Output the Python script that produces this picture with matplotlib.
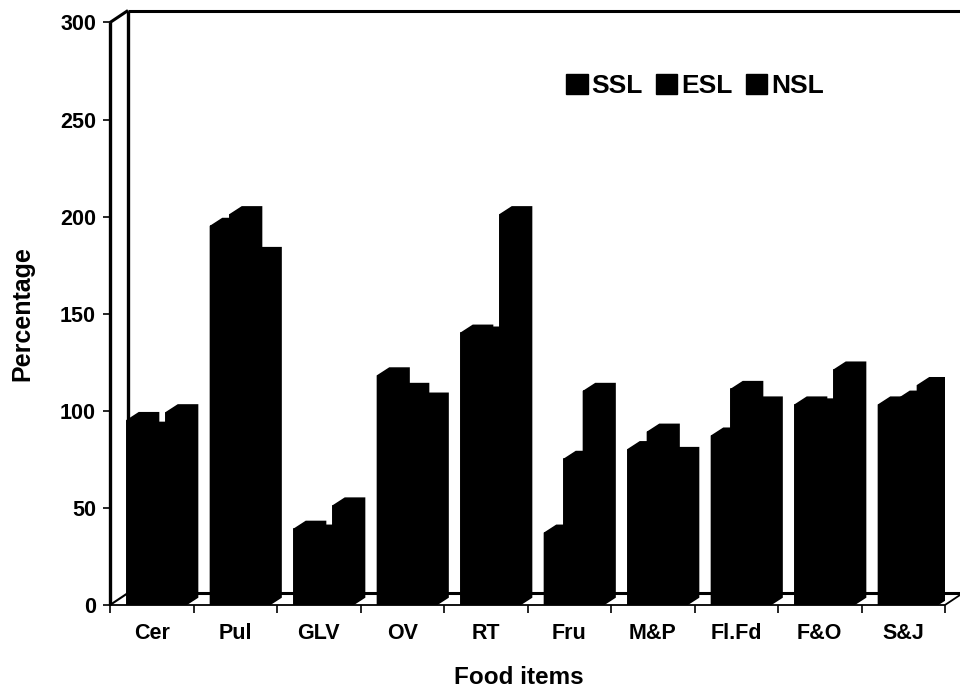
import matplotlib
matplotlib.use("Agg")
import matplotlib.pyplot as plt
from matplotlib.patches import Patch
import numpy as np

# data
items = ["Cer", "Pul", "GLV", "OV", "RT", "Fru", "M&P", "Fl.Fd", "F&O", "S&J"]
ssl = [95, 195, 39, 118, 140, 37, 80, 87, 103, 103]
esl = [90, 201, 37, 110, 139, 75, 89, 111, 102, 106]
nsl = [99, 180, 51, 105, 201, 110, 77, 103, 121, 113]
series = [("SSL", ssl), ("ESL", esl), ("NSL", nsl)]
yticks = [0, 50, 100, 150, 200, 250, 300]

plt.rcParams["font.family"] = ["Liberation Sans", "DejaVu Sans"]
plt.rcParams["font.weight"] = "bold"

fig = plt.figure(figsize=(9.6, 6.93), dpi=100)
ax = fig.add_axes([110 / 960, 88 / 693, 835 / 960, 582.5 / 693])
ax.set_xlim(0, 10)
ax.set_ylim(0, 300)
for s in ax.spines.values():
    s.set_visible(False)

# 3d offsets (data units)
DX = 18 / 83.5
DY = 12 / 1.942
bw = 19.5 / 83.5     # bar front width
bd = 12 / 83.5       # bar depth (x)
bdy = 4.0            # bar depth (y)
off = 17 / 83.5      # start of first bar inside a slot

x = np.arange(len(items))
for k, (name, vals) in enumerate(series):
    x0 = x + off + k * bw
    ax.bar(x0, vals, width=bw, align="edge", color="black", edgecolor="black",
           linewidth=1.2, zorder=3 + k)
    for xi, v in zip(x0, vals):
        ax.fill([xi, xi, xi + bd, xi + bw + bd, xi + bw + bd, xi + bw],
                [0, v, v + bdy, v + bdy, bdy, 0],
                facecolor="black", edgecolor="black", lw=1.2, zorder=3 + k)

# frame: walls and floor
lk = dict(color="black", clip_on=False, solid_capstyle="butt")
ax.plot([0, 0], [0, 300], lw=2.4, zorder=10, **lk)
ax.plot([0, DX], [300, 300 + DY], lw=2.2, zorder=10, **lk)
ax.plot([DX, 10.3], [300 + DY, 300 + DY], lw=2.2, zorder=2, **lk)
ax.plot([DX, DX], [DY, 300 + DY], lw=2.4, zorder=2, **lk)
ax.plot([0, DX], [0, DY], lw=1.5, zorder=10, **lk)
ax.plot([DX, 10 + DX], [DY, DY], lw=2.2, zorder=2, **lk)
ax.plot([0, 10], [0, 0], lw=1.3, zorder=10, **lk)
ax.plot([10, 10 + DX], [0, DY], lw=1.3, zorder=10, **lk)

ax.set_yticks(yticks)
ax.set_yticklabels([str(t) for t in yticks])
ax.set_xticks(np.arange(0, 11))
ax.set_xticklabels([])
ax.set_xticks(x + 0.5, minor=True)
ax.set_xticklabels(items, minor=True)
ax.tick_params(axis="y", direction="out", length=5, width=1.2, pad=5,
               labelsize=15.5)
ax.tick_params(axis="x", which="major", direction="out", length=6, width=1.2)
ax.tick_params(axis="x", which="minor", length=0, pad=13, labelsize=15.5)
for t in ax.get_xticklabels(minor=True) + ax.get_yticklabels():
    t.set_fontweight("bold")

fig.text(519 / 960, 1 - 677 / 693, "Food items", ha="center", va="center",
         fontsize=17.5, fontweight="bold")
fig.text(22 / 960, 1 - 314 / 693, "Percentage", ha="center", va="center",
         rotation=90, fontsize=18, fontweight="bold")

handles = [Patch(facecolor="black", edgecolor="black") for _ in series]
fig.legend(handles, [n for n, _ in series], loc="center",
           bbox_to_anchor=(695 / 960, 1 - 86 / 693), ncol=3, frameon=False,
           handlelength=0.8, handleheight=0.8,
           handletextpad=0.15, columnspacing=0.5, prop={"weight": "bold", "size": 19})

fig.savefig("out.png", dpi=100)
